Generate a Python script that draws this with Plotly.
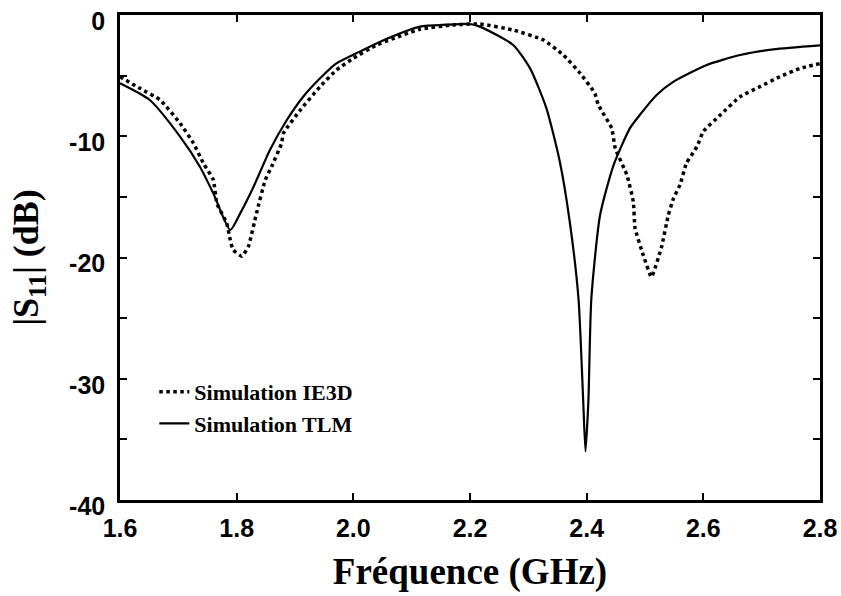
import plotly.graph_objects as go

# Frequencies (GHz) and |S11| (dB)
tlm_f = [1.600, 1.651, 1.703, 1.737, 1.760, 1.789, 1.806, 1.829, 1.857, 1.886, 1.914,
         1.943, 1.971, 2.011, 2.046, 2.114, 2.160, 2.200, 2.217, 2.274, 2.303, 2.331,
         2.354, 2.371, 2.386, 2.394, 2.398, 2.403, 2.408, 2.423, 2.446, 2.474, 2.491,
         2.520, 2.549, 2.606, 2.663, 2.720, 2.800]
tlm_db = [-5.63, -7.01, -10.03, -12.51, -14.71, -17.73, -16.36, -14.16, -11.13, -8.66, -6.74,
          -5.22, -3.99, -3.02, -2.20, -0.96, -0.80, -0.74, -0.96, -2.47, -4.40, -7.70,
          -12.10, -17.05, -23.4, -31.75, -36.0, -31.75, -23.4, -16.5, -12.4, -9.35, -8.25,
          -6.60, -5.50, -4.12, -3.30, -2.83, -2.50]

ie3d_f = [1.600, 1.634, 1.669, 1.703, 1.726, 1.743, 1.760, 1.766, 1.783, 1.789, 1.794,
          1.809, 1.820, 1.834, 1.849, 1.860, 1.877, 1.880, 1.909, 1.943, 1.971, 2.000,
          2.040, 2.114, 2.171, 2.217, 2.274, 2.326, 2.360, 2.389, 2.414, 2.420, 2.443,
          2.449, 2.469, 2.480, 2.483, 2.497, 2.511, 2.528, 2.540, 2.549, 2.560, 2.571,
          2.589, 2.600, 2.629, 2.663, 2.697, 2.731, 2.766, 2.800]
ie3d_db = [-5.09, -6.05, -7.01, -8.93, -10.58, -12.23, -13.60, -15.53, -17.18, -18.56, -19.38,
           -19.90, -19.10, -16.36, -13.60, -12.50, -10.58, -9.76, -7.84, -5.91, -4.54, -3.57,
           -2.47, -1.18, -0.82, -0.74, -1.24, -2.06, -3.30, -4.81, -6.46, -7.42, -9.35,
           -11.0, -13.2, -15.4, -17.6, -19.8, -21.6, -19.2, -16.5, -15.1, -14.0, -12.23,
           -10.86, -9.60, -8.25, -6.74, -5.91, -5.09, -4.40, -4.00]

x_ticks = [1.6, 1.8, 2.0, 2.2, 2.4, 2.6, 2.8]
x_ticktext = ["1.6", "1.8", "2.0", "2.2", "2.4", "2.6", "2.8"]
y_ticks = [-40, -35, -30, -25, -20, -15, -10, -5, 0]
y_ticktext = ["-40", "", "-30", "", "-20", "", "-10", "", "0"]

fig = go.Figure()
fig.add_trace(go.Scatter(x=ie3d_f, y=ie3d_db, mode="lines", name="Simulation IE3D",
                         legendgroup="a",
                         line=dict(color="black", width=3.5, dash="dot",
                                   shape="spline", smoothing=0.4)))
fig.add_trace(go.Scatter(x=tlm_f, y=tlm_db, mode="lines", name="Simulation TLM",
                         legendgroup="b",
                         line=dict(color="black", width=2.2,
                                   shape="spline", smoothing=0.6)))

axis_common = dict(showgrid=False, zeroline=False, showline=True, linecolor="black",
                   linewidth=2.5, mirror="ticks", ticks="inside", ticklen=7,
                   tickwidth=2, tickcolor="black", automargin=False,
                   ticklabeloverflow="allow",
                   tickfont=dict(family="Liberation Sans", size=25, color="black", weight="bold"))

fig.update_xaxes(range=[1.6, 2.8], tickvals=x_ticks, ticktext=x_ticktext,
                 ticklabelstandoff=4,
                 title=dict(text="<b>Fréquence (GHz)</b>", standoff=18,
                            font=dict(family="Liberation Serif", size=37, color="black")),
                 **axis_common)
fig.update_yaxes(range=[-40, 0], tickvals=y_ticks, ticktext=y_ticktext,
                 ticklabelstandoff=7, ticklabelshift=6,
                 title=dict(text="<b>|S<sub>11</sub>| (dB)</b>", standoff=20,
                            font=dict(family="Liberation Serif", size=36, color="black")),
                 **axis_common)

fig.update_layout(
    width=841, height=596,
    margin=dict(l=120, r=21, t=15, b=96, autoexpand=False),
    plot_bgcolor="white", paper_bgcolor="white",
    showlegend=True,
    legend=dict(x=0.049, y=0.266, xanchor="left", yanchor="top",
                bgcolor="rgba(0,0,0,0)", borderwidth=0,
                traceorder="grouped", tracegroupgap=0,
                font=dict(family="Liberation Serif", size=22, color="black", weight="bold")),
)

fig.write_html(
    "out.html",
    config={"displayModeBar": False},
    post_script="document.body.style.margin='0';document.documentElement.style.overflow='hidden';",
)
